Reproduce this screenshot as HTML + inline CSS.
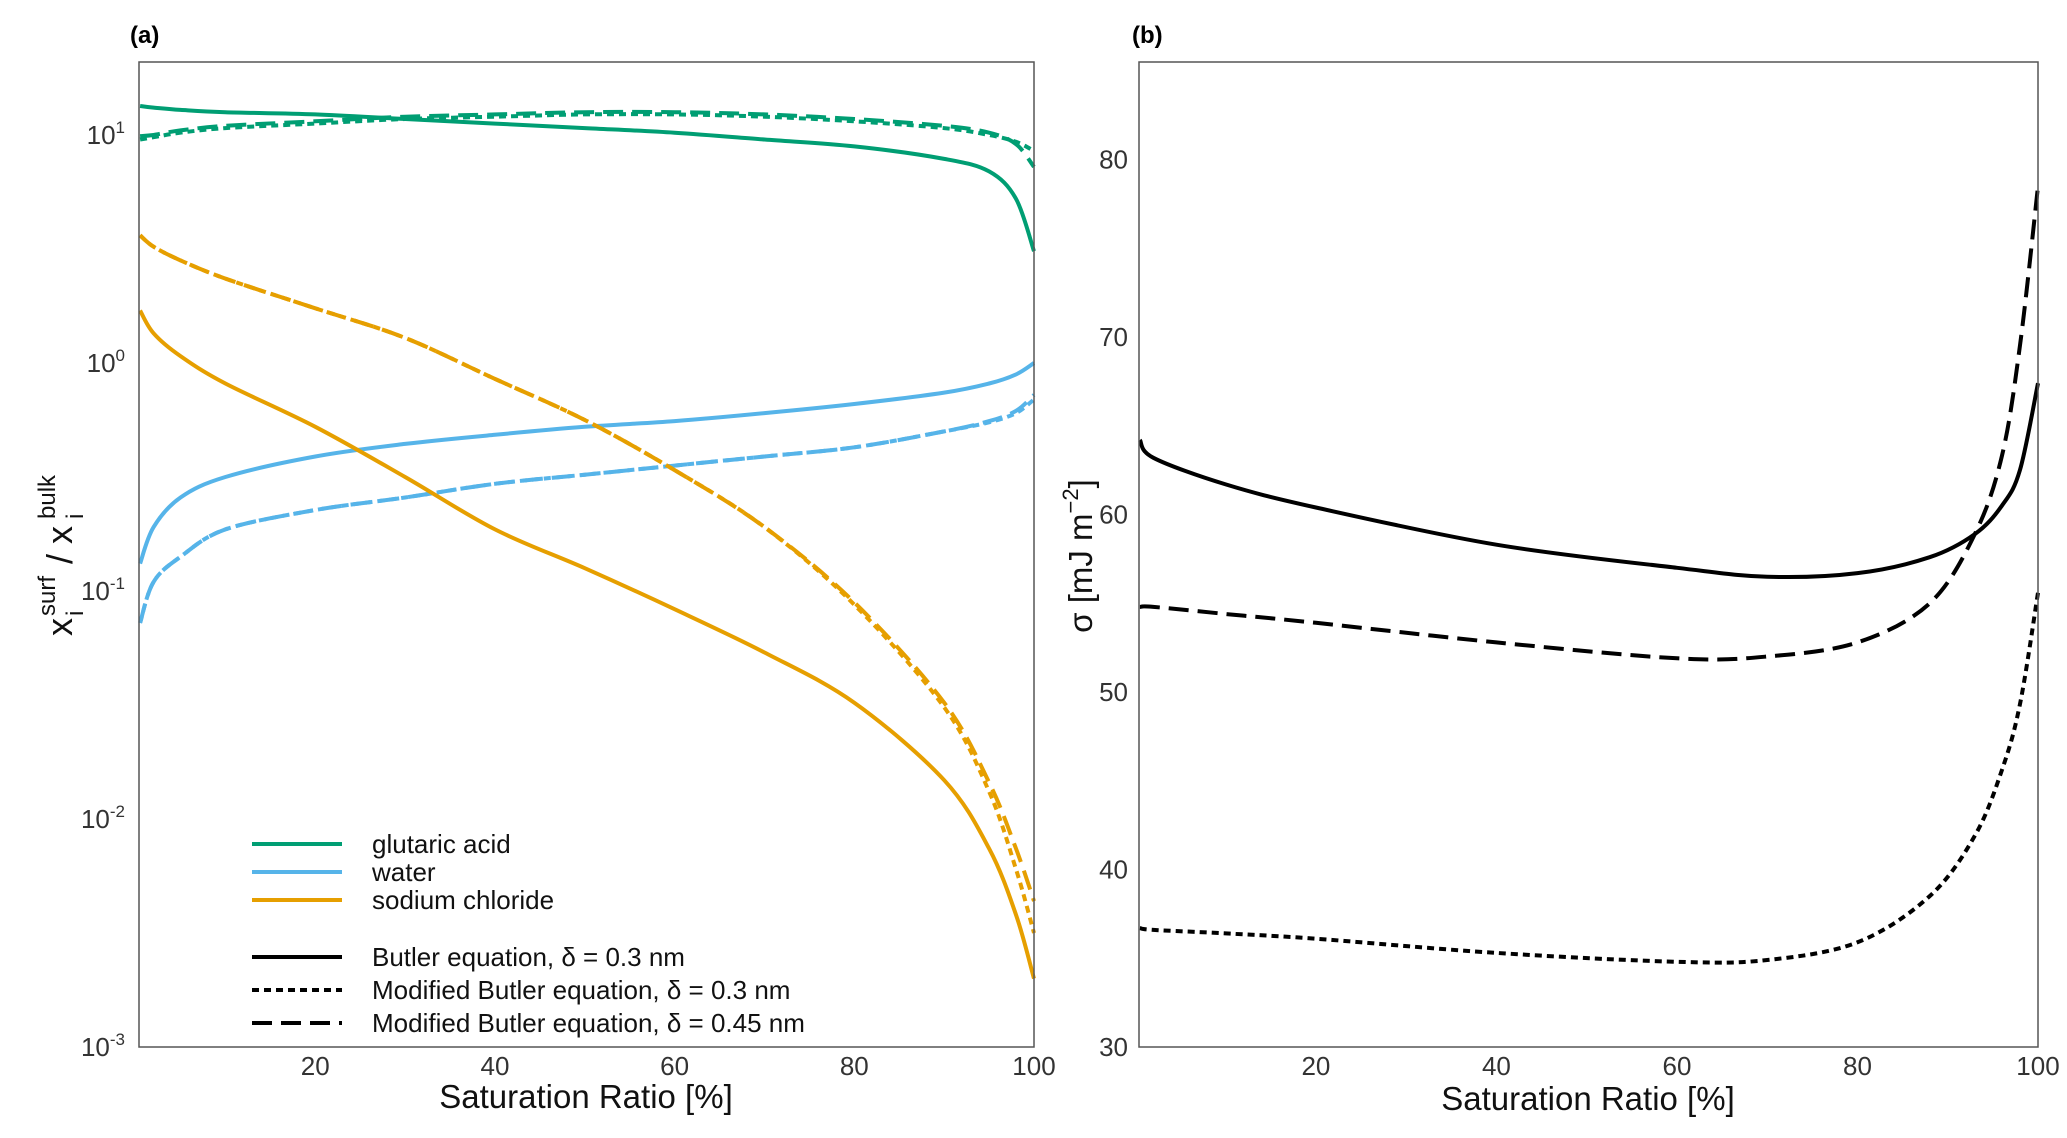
<!DOCTYPE html>
<html><head><meta charset="utf-8"><style>
body{margin:0;background:#fff;}
svg{display:block;font-family:"Liberation Sans",sans-serif;}
</style></head><body>
<svg id="fig" width="2067" height="1138" viewBox="0 0 2067 1138">
<text x="130" y="43" font-size="24" font-weight="bold">(a)</text>
<text x="1132" y="43" font-size="24" font-weight="bold">(b)</text>
<g id="pa"></g>
<g id="pb"></g>
<text x="586" y="1108" font-size="33" text-anchor="middle" fill="#111">Saturation Ratio [%]</text>
<text x="1588" y="1110" font-size="33" text-anchor="middle" fill="#111">Saturation Ratio [%]</text>
<g transform="translate(72,556) rotate(-90)" fill="#111">
  <text x="-80" y="0" font-size="36">x</text>
  <text x="-60" y="-17" font-size="24">surf</text>
  <text x="-60" y="11" font-size="24">i</text>
  <text x="-8" y="0" font-size="36">/ x</text>
  <text x="37" y="-17" font-size="24">bulk</text>
  <text x="37" y="11" font-size="24">i</text>
</g>
<text transform="translate(1092,556) rotate(-90)" font-size="33" text-anchor="middle" fill="#111">σ [mJ m<tspan font-size="22" dy="-14">−2</tspan><tspan dy="14">]</tspan></text>
<g id="legend"></g>
</svg>
<script>
// Panel (a) data: x = saturation ratio [%], y = log10(x_surf/x_bulk)
const xA = [0.5, 2, 5, 10, 20, 30, 40, 50, 60, 70, 80, 90, 95, 98, 100];
const glutSolid = [1.127,1.12,1.11,1.10,1.09,1.07,1.05,1.03,1.01,0.98,0.95,0.895,0.84,0.72,0.49];
const glutDash45 = [0.995,1.00,1.02,1.04,1.06,1.08,1.09,1.10,1.10,1.09,1.07,1.04,1.01,0.96,0.86];
const glutDot03 = [0.98,0.99,1.01,1.03,1.05,1.07,1.08,1.09,1.09,1.08,1.06,1.03,1.00,0.97,0.93];
const naclSolid = [0.23,0.13,0.03,-0.09,-0.28,-0.50,-0.73,-0.90,-1.08,-1.27,-1.49,-1.83,-2.13,-2.42,-2.70];
const naclDash45 = [0.56,0.51,0.45,0.37,0.24,0.11,-0.07,-0.25,-0.47,-0.72,-1.05,-1.49,-1.84,-2.13,-2.36];
const naclDot03 = [0.56,0.51,0.45,0.37,0.24,0.11,-0.07,-0.25,-0.47,-0.72,-1.06,-1.51,-1.88,-2.22,-2.50];
const waterSolid = [-0.88,-0.72,-0.59,-0.50,-0.41,-0.355,-0.315,-0.28,-0.255,-0.22,-0.18,-0.13,-0.09,-0.05,0.0];
const waterDash45 = [-1.14,-0.96,-0.85,-0.73,-0.645,-0.59,-0.53,-0.49,-0.45,-0.41,-0.37,-0.30,-0.255,-0.21,-0.14];
const waterDot03 = [-1.14,-0.96,-0.85,-0.73,-0.645,-0.59,-0.53,-0.49,-0.45,-0.41,-0.37,-0.30,-0.26,-0.22,-0.16];
const xTicks = [20, 40, 60, 80, 100];
const yTicksA = [1, 0, -1, -2, -3];
// Panel (b) data: surface tension [mJ m^-2]
const xB = [0.5, 2, 10, 20, 40, 60, 70, 80, 88, 93, 96, 98, 100];
const sigSolid = [64.2,63.2,61.7,60.4,58.3,57.0,56.5,56.7,57.6,58.9,60.5,62.5,67.4];
const sigDash45 = [54.8,54.8,54.4,53.9,52.8,51.9,52.0,52.8,55.0,58.9,63.3,69.5,78.5];
const sigDot03 = [36.7,36.6,36.4,36.1,35.3,34.8,34.9,35.9,38.5,41.9,45.6,49.3,55.6];
const yTicksB = [30, 40, 50, 60, 70, 80];

const NS = "http://www.w3.org/2000/svg";
function mk(tag, attrs, parent){const e=document.createElementNS(NS,tag);for(const k in attrs)e.setAttribute(k,attrs[k]);parent.appendChild(e);return e;}
const GREEN="#009E73", BLUE="#56B4E9", ORANGE="#E69F00";
const DASH={solid:"", dot:"7,5", dash:"20,9"};

function panel(L, R, T, B, xmin, xmax, ymin, ymax){
  const sx=v=>L+(v-xmin)/(xmax-xmin)*(R-L);
  const sy=v=>B-(v-ymin)/(ymax-ymin)*(B-T);
  return {sx,sy};
}
function smoothPath(pts){
  let d='M'+pts[0][0].toFixed(1)+','+pts[0][1].toFixed(1);
  for(let i=0;i<pts.length-1;i++){
    const p0=pts[Math.max(0,i-1)],p1=pts[i],p2=pts[i+1],p3=pts[Math.min(pts.length-1,i+2)];
    const c1=[p1[0]+(p2[0]-p0[0])/6,p1[1]+(p2[1]-p0[1])/6];
    const c2=[p2[0]-(p3[0]-p1[0])/6,p2[1]-(p3[1]-p1[1])/6];
    d+=' C'+c1[0].toFixed(1)+','+c1[1].toFixed(1)+' '+c2[0].toFixed(1)+','+c2[1].toFixed(1)+' '+p2[0].toFixed(1)+','+p2[1].toFixed(1);
  }
  return d;
}
function series(g, ax, xs, ys, color, dash, name){
  const pts=xs.map((x,i)=>[ax.sx(x),ax.sy(ys[i])]);
  const p=mk('path',{d:smoothPath(pts),fill:'none',stroke:color,'stroke-width':4,'stroke-dasharray':dash,'stroke-linejoin':'round'},g);
  
  
}
// Panel a
const ga=document.getElementById('pa');
const A=panel(139,1034,62,1047,0.38,100,-3,1.32);
series(ga,A,xA,glutDot03,GREEN,DASH.dot,'glutaric-modified-03');
series(ga,A,xA,glutDash45,GREEN,DASH.dash,'glutaric-modified-045');
series(ga,A,xA,glutSolid,GREEN,DASH.solid,'glutaric-butler');
series(ga,A,xA,waterDot03,BLUE,DASH.dot,'water-modified-03');
series(ga,A,xA,waterDash45,BLUE,DASH.dash,'water-modified-045');
series(ga,A,xA,waterSolid,BLUE,DASH.solid,'water-butler');
series(ga,A,xA,naclDot03,ORANGE,DASH.dot,'nacl-modified-03');
series(ga,A,xA,naclDash45,ORANGE,DASH.dash,'nacl-modified-045');
series(ga,A,xA,naclSolid,ORANGE,DASH.solid,'nacl-butler');
const fa=mk('rect',{x:139,y:62,width:895,height:985,fill:'none',stroke:'#555','stroke-width':1.5},ga);


xTicks.forEach(t=>{
  const e=mk('text',{x:A.sx(t),y:1075,'font-size':26,'text-anchor':'middle',fill:'#333'},ga);e.textContent=t;
  
  
});
yTicksA.forEach(t=>{
  const e=mk('text',{x:125,y:A.sy(t)+9,'font-size':26,'text-anchor':'end',fill:'#333'},ga);
  e.innerHTML='10<tspan font-size="17" dy="-11">'+t+'</tspan>';
  
  
});
// Panel b
const gb=document.getElementById('pb');
const Bx=panel(1139,2038,62,1047,0.4,100,30,85.5);
series(gb,Bx,xB,sigSolid,'#000',DASH.solid,'sigma-butler');
series(gb,Bx,xB,sigDash45,'#000',DASH.dash,'sigma-modified-045');
series(gb,Bx,xB,sigDot03,'#000',DASH.dot,'sigma-modified-03');
const fb=mk('rect',{x:1139,y:62,width:899,height:985,fill:'none',stroke:'#555','stroke-width':1.5},gb);


xTicks.forEach(t=>{
  const e=mk('text',{x:Bx.sx(t),y:1075,'font-size':26,'text-anchor':'middle',fill:'#333'},gb);e.textContent=t;
  
  
});
yTicksB.forEach(t=>{
  const e=mk('text',{x:1128,y:Bx.sy(t)+9,'font-size':26,'text-anchor':'end',fill:'#333'},gb);e.textContent=t;
  
  
});
// Legend
const lg=document.getElementById('legend');
const legItems=[[844,GREEN,'','glutaric acid'],[872,BLUE,'','water'],[900,ORANGE,'','sodium chloride'],
 [957,'#000',DASH.solid,'Butler equation, δ = 0.3 nm'],[990,'#000',DASH.dot,'Modified Butler equation, δ = 0.3 nm'],[1023,'#000',DASH.dash,'Modified Butler equation, δ = 0.45 nm']];
legItems.forEach(it=>{
  const l=mk('line',{x1:252,x2:342,y1:it[0],y2:it[0],stroke:it[1],'stroke-width':4,'stroke-dasharray':it[2]},lg);
  
  
  const t=mk('text',{x:372,y:it[0]+9,'font-size':26,fill:'#111'},lg);t.textContent=it[3];
  
  
});
</script>
</body></html>
